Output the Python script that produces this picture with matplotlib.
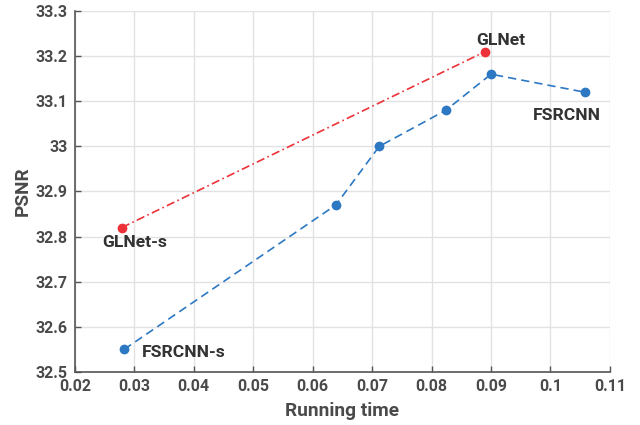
import matplotlib
matplotlib.use("Agg")
import matplotlib.pyplot as plt

fsrcnn_time = [0.0283, 0.0639, 0.0712, 0.0824, 0.0900, 0.1058]
fsrcnn_psnr = [32.55, 32.87, 33.00, 33.08, 33.16, 33.12]
glnet_time = [0.0279, 0.0890]
glnet_psnr = [32.82, 33.21]

xticks = [0.02, 0.03, 0.04, 0.05, 0.06, 0.07, 0.08, 0.09, 0.1, 0.11]
xticklabels = ["0.02", "0.03", "0.04", "0.05", "0.06", "0.07", "0.08", "0.09", "0.1", "0.11"]
yticks = [32.5, 32.6, 32.7, 32.8, 32.9, 33.0, 33.1, 33.2, 33.3]
yticklabels = ["32.5", "32.6", "32.7", "32.8", "32.9", "33", "33.1", "33.2", "33.3"]

plt.rcParams['font.family'] = ['Roboto', 'DejaVu Sans']
txt = '#4a4a4a'
blue = '#2D78C2'
red = '#EC3238'

fig = plt.figure(figsize=(6.4, 4.25), dpi=100)
ax = fig.add_axes([0.117, 0.125, 0.836, 0.849])

ax.plot(fsrcnn_time, fsrcnn_psnr, linestyle=(0, (5, 3)), color=blue, lw=1.2,
        marker='o', markersize=6, zorder=3)
ax.plot(glnet_time, glnet_psnr, linestyle=(0, (5, 2, 1, 2)), color=red, lw=1.2,
        marker='o', markersize=6, zorder=3)

ax.set_xlim(0.02, 0.11)
ax.set_ylim(32.5, 33.3)
ax.set_xticks(xticks)
ax.set_xticklabels(xticklabels)
ax.set_yticks(yticks)
ax.set_yticklabels(yticklabels)
ax.grid(True, color='#e2e2e2', lw=1)
ax.set_axisbelow(True)
for s in ['top', 'right']:
    ax.spines[s].set_visible(False)
for s in ['left', 'bottom']:
    ax.spines[s].set_color('#555555')
    ax.spines[s].set_linewidth(1.2)
ax.tick_params(direction='in', length=4, width=1, colors='#555555',
               labelcolor=txt, labelsize=11.5, pad=5)
for lab in ax.get_xticklabels() + ax.get_yticklabels():
    lab.set_fontweight('bold')

ax.set_xlabel('Running time', fontsize=13.8, fontweight='bold', color=txt, labelpad=6)
ax.set_ylabel('PSNR', fontsize=13.8, fontweight='bold', color=txt, labelpad=3)

kw = dict(fontsize=12.6, fontweight='bold', color='#333333', textcoords='offset points')
ax.annotate('GLNet', (glnet_time[1], glnet_psnr[1]), xytext=(11, 8), ha='center', va='center', **kw)
ax.annotate('GLNet-s', (glnet_time[0], glnet_psnr[0]), xytext=(9, -11), ha='center', va='center', **kw)
ax.annotate('FSRCNN-s', (fsrcnn_time[0], fsrcnn_psnr[0]), xytext=(13, -2), ha='left', va='center', **kw)
ax.annotate('FSRCNN', (fsrcnn_time[5], fsrcnn_psnr[5]), xytext=(-13, -17), ha='center', va='center', **kw)

fig.savefig('out.png', dpi=100)
